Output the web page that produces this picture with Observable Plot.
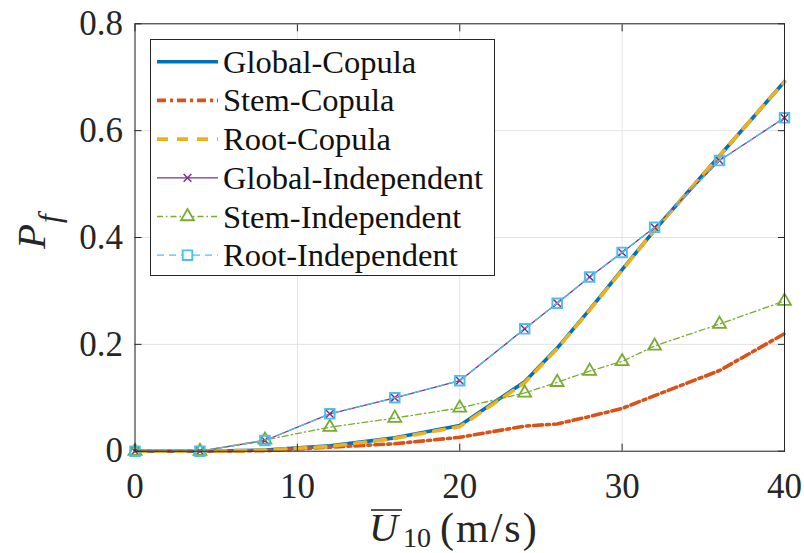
<!DOCTYPE html>
<html><head><meta charset="utf-8">
<script src="https://cdn.jsdelivr.net/npm/d3@7"></script>
<script src="https://cdn.jsdelivr.net/npm/@observablehq/plot@0.6"></script>
<style>
body{margin:0;background:#fff}
#c{position:relative;width:804px;height:553px;}
#c svg{position:absolute;left:0;top:0}
</style>
</head><body><div id="c"></div><script>
// ---- data ----
const windSpeed = [0, 4, 8, 12, 16, 20, 24, 26, 28, 30, 32, 36, 40];
const globalCopula = [0, 0, 0.002, 0.010, 0.025, 0.048, 0.130, 0.193, 0.265, 0.340, 0.414, 0.553, 0.692];
const stemCopula   = [0, 0, 0.001, 0.0075, 0.014, 0.026, 0.047, 0.051, 0.065, 0.080, 0.104, 0.151, 0.220];
const rootCopula   = [0, 0, 0.002, 0.009, 0.024, 0.046, 0.128, 0.192, 0.264, 0.339, 0.414, 0.553, 0.692];
const globalIndep  = [0, 0, 0.020, 0.070, 0.100, 0.132, 0.229, 0.277, 0.326, 0.372, 0.419, 0.544, 0.624];
const stemIndep    = [0, 0, 0.021, 0.045, 0.062, 0.081, 0.109, 0.129, 0.150, 0.168, 0.197, 0.238, 0.281];
const rootIndep    = [0, 0, 0.020, 0.070, 0.100, 0.132, 0.229, 0.277, 0.326, 0.372, 0.419, 0.544, 0.624];
const xTicks = [0, 10, 20, 30, 40];
const yTicks = [0, 0.2, 0.4, 0.6, 0.8];
const seriesNames = ["Global-Copula", "Stem-Copula", "Root-Copula", "Global-Independent", "Stem-Independent", "Root-Independent"];

// ---- styles ----
const styles = [
  {values: globalCopula, color: "#0072BD", width: 3.6, dash: null, symbol: null},
  {values: stemCopula,   color: "#D95319", width: 3.6, dash: "9,4,3,4", symbol: null},
  {values: rootCopula,   color: "#EDB120", width: 3.6, dash: "11,9", symbol: null},
  {values: globalIndep,  color: "#7E2F8E", width: 1.3, dash: null, symbol: "times", r: 3.6, sw: 1.5},
  {values: stemIndep,    color: "#77AC30", width: 1.3, dash: "6,3,1.5,3", symbol: "triangle", r: 4.8, sw: 1.8},
  {values: rootIndep,    color: "#4DBEEE", width: 1.3, dash: "7,5", symbol: "square", r: 5.4, sw: 1.9}
];
const series = styles.map((s, i) => ({...s, name: seriesNames[i],
  data: windSpeed.map((x, j) => ({x, y: s.values[j]}))}));

const marks = [
  Plot.gridX(xTicks, {stroke: "#e3e3e3", strokeOpacity: 1}),
  Plot.gridY(yTicks, {stroke: "#e3e3e3", strokeOpacity: 1})
];
for (const s of series) {
  marks.push(Plot.line(s.data, {x: "x", y: "y", stroke: s.color, strokeWidth: s.width,
    strokeDasharray: s.dash ?? undefined, strokeLinejoin: "round"}));
  if (s.symbol) marks.push(Plot.dot(s.data, {x: "x", y: "y", symbol: s.symbol, r: s.r,
    stroke: s.color, strokeWidth: s.sw, fill: "none"}));
}
marks.push(
  Plot.frame({stroke: "#262626", strokeWidth: 1}),
  Plot.axisX(xTicks, {anchor: "bottom", tickSize: 0, tickPadding: 22, label: null, fontSize: 35}),
  Plot.axisY(yTicks, {anchor: "left", tickSize: 0, tickPadding: 12, label: null, fontSize: 35, tickFormat: d => String(d)}),
  Plot.axisX(xTicks, {anchor: "bottom", tickSize: -7, text: null, label: null, stroke: "#262626"}),
  Plot.axisX(xTicks, {anchor: "top", tickSize: -7, text: null, label: null, stroke: "#262626"}),
  Plot.axisY(yTicks, {anchor: "left", tickSize: -7, text: null, label: null, stroke: "#262626"}),
  Plot.axisY(yTicks, {anchor: "right", tickSize: -7, text: null, label: null, stroke: "#262626"})
);

const chart = Plot.plot({
  width: 804, height: 553,
  marginLeft: 134.5, marginRight: 20, marginTop: 23.3, marginBottom: 102.3,
  style: {fontFamily: "'Liberation Serif', 'Times New Roman', serif", fontSize: "35px", color: "#262626", background: "white", overflow: "visible"},
  x: {domain: [0, 40]},
  y: {domain: [0, 0.8]},
  marks
});
document.getElementById("c").appendChild(chart);

// axis titles
const svg = d3.select(chart);
const serif = "'Liberation Serif', 'Times New Roman', serif";
const xl = svg.append("g").attr("fill", "#262626").attr("font-family", serif).attr("text-anchor", "start");
xl.append("text").attr("x", 369).attr("y", 541).attr("font-size", 40).attr("font-style", "italic").text("U");
xl.append("line").attr("x1", 371).attr("x2", 402).attr("y1", 510).attr("y2", 510).attr("stroke", "#262626").attr("stroke-width", 1.6);
xl.append("text").attr("x", 403).attr("y", 547).attr("font-size", 28).text("10");
xl.append("text").attr("x", 440).attr("y", 542).attr("font-size", 42).attr("letter-spacing", 2).text("(m/s)");

const yl = svg.append("text").attr("fill", "#262626").attr("font-family", serif).attr("text-anchor", "start")
  .attr("transform", "translate(45,249) rotate(-90)");
yl.append("tspan").attr("font-size", 41).attr("font-style", "italic").text("P");
yl.append("tspan").attr("font-size", 31).attr("font-style", "italic").attr("dy", 15).attr("dx", 1).text("f");

// legend
const lg = d3.select("#c").append("svg").attr("width", 804).attr("height", 553).style("pointer-events", "none");
lg.append("rect").attr("x", 150.5).attr("y", 39.5).attr("width", 344).attr("height", 236)
  .attr("fill", "white").attr("stroke", "#262626").attr("stroke-width", 1);
series.forEach((s, i) => {
  const cy = 61.7 + i * 38.7;
  lg.append("line").attr("x1", 157).attr("x2", 218).attr("y1", cy).attr("y2", cy)
    .attr("stroke", s.color).attr("stroke-width", s.width).attr("stroke-dasharray", s.dash);
  if (s.symbol) {
    const sym = {times: d3.symbolTimes, triangle: d3.symbolTriangle, square: d3.symbolSquare}[s.symbol];
    lg.append("path").attr("transform", `translate(187.5,${cy})`)
      .attr("d", d3.symbol(sym, Math.PI * s.r * s.r)())
      .attr("fill", "white").attr("stroke", s.color).attr("stroke-width", s.sw);
  }
  lg.append("text").attr("x", 223).attr("y", cy + 11).attr("font-family", serif)
    .attr("font-size", 32.5).attr("fill", "#111").text(s.name);
});
</script></body></html>
